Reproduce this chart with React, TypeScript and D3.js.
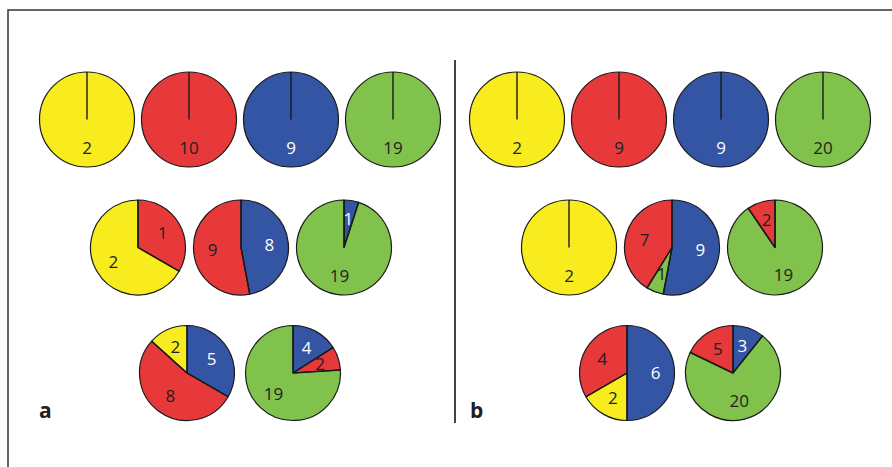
import { useEffect, useRef } from 'react';
import * as d3 from 'd3';

// colour groups
const groups = ['yellow', 'red', 'blue', 'green'];
const groupColors = ['#F8EC1E', '#E8393A', '#3454A4', '#80C24B'];
const groupText = ['#231f20', '#231f20', '#ffffff', '#231f20'];

// each pie: slices clockwise from 12 o'clock, [group, count]
type Slice = [string, number];

const panelARow1: Slice[][] = [[['yellow', 2]], [['red', 10]], [['blue', 9]], [['green', 19]]];
const panelARow2: Slice[][] = [
  [['red', 1], ['yellow', 2]],
  [['blue', 8], ['red', 9]],
  [['blue', 1], ['green', 19]],
];
const panelARow3: Slice[][] = [
  [['blue', 5], ['red', 8], ['yellow', 2]],
  [['blue', 4], ['red', 2], ['green', 19]],
];

const panelBRow1: Slice[][] = [[['yellow', 2]], [['red', 9]], [['blue', 9]], [['green', 20]]];
const panelBRow2: Slice[][] = [
  [['yellow', 2]],
  [['blue', 9], ['green', 1], ['red', 7]],
  [['green', 19], ['red', 2]],
];
const panelBRow3: Slice[][] = [
  [['blue', 6], ['yellow', 2], ['red', 4]],
  [['blue', 3], ['green', 20], ['red', 5]],
];

const panelNames = ['a', 'b'];
const panelRows = [
  [panelARow1, panelARow2, panelARow3],
  [panelBRow1, panelBRow2, panelBRow3],
];

const W = 892;
const H = 467;

export default function App() {
  const svgRef = useRef<SVGSVGElement>(null);

  useEffect(() => {
    if (!svgRef.current) return;
    const svg = d3.select(svgRef.current);
    svg.selectAll('*').remove();

    const color = d3.scaleOrdinal<string, string>().domain(groups).range(groupColors);
    const textColor = d3.scaleOrdinal<string, string>().domain(groups).range(groupText);

    // layout
    const radius = 47.5;
    const rowY = [119.5, 247.5, 373];
    const rowGap = [102, 103, 106];
    const rowCenters = [
      [240, 241, 240],
      [670, 672, 680],
    ];
    const panelLabelX = [39, 470];

    // frame (top + left edge only)
    svg.append('path')
      .attr('d', `M8,${H} L8,10 L${W},10`)
      .attr('fill', 'none')
      .attr('stroke', '#333')
      .attr('stroke-width', 1.5);

    // divider
    svg.append('line')
      .attr('x1', 455).attr('x2', 455)
      .attr('y1', 60).attr('y2', 423)
      .attr('stroke', '#444')
      .attr('stroke-width', 2);

    const pie = d3.pie<Slice>().value(d => d[1]).sort(null);
    const arc = d3.arc<d3.PieArcDatum<Slice>>().innerRadius(0).outerRadius(radius);
    const labelArc = d3.arc<d3.PieArcDatum<Slice>>()
      .innerRadius(radius * 0.6)
      .outerRadius(radius * 0.6);

    panelRows.forEach((rows, p) => {
      rows.forEach((row, r) => {
        const n = row.length;
        row.forEach((slices, i) => {
          const cx = rowCenters[p][r] + (i - (n - 1) / 2) * rowGap[r];
          const cy = rowY[r];
          const g = svg.append('g').attr('transform', `translate(${cx},${cy})`);
          const arcs = pie(slices);

          g.selectAll('path.slice')
            .data(arcs)
            .join('path')
            .attr('class', 'slice')
            .attr('d', arc)
            .attr('fill', d => color(d.data[0]))
            .attr('stroke', '#1a1a1a')
            .attr('stroke-width', 1.2)
            .attr('stroke-linejoin', 'round');

          // radial edge at the start of each slice (visible on whole pies too)
          g.selectAll('line.edge')
            .data(arcs)
            .join('line')
            .attr('class', 'edge')
            .attr('x1', 0).attr('y1', 0)
            .attr('x2', d => d3.pointRadial(d.startAngle, radius)[0])
            .attr('y2', d => d3.pointRadial(d.startAngle, radius)[1])
            .attr('stroke', '#1a1a1a')
            .attr('stroke-width', 1.4);

          g.selectAll('text')
            .data(arcs)
            .join('text')
            .attr('transform', d => `translate(${labelArc.centroid(d)})`)
            .attr('text-anchor', 'middle')
            .attr('dy', '0.36em')
            .attr('fill', d => textColor(d.data[0]))
            .attr('font-family', '"Open Sans", "Noto Sans", sans-serif')
            .attr('font-size', 17)
            .text(d => d.data[1]);
        });
      });

      svg.append('text')
        .attr('x', panelLabelX[p])
        .attr('y', 418)
        .attr('font-family', '"Open Sans", "Noto Sans", sans-serif')
        .attr('font-weight', 700)
        .attr('font-size', 21)
        .attr('fill', '#231f20')
        .text(panelNames[p]);
    });
  }, []);

  return (
    <div style={{ position: 'absolute', left: 0, top: 0 }}>
      <svg ref={svgRef} width={W} height={H} style={{ display: 'block', background: '#fff' }} />
    </div>
  );
}
